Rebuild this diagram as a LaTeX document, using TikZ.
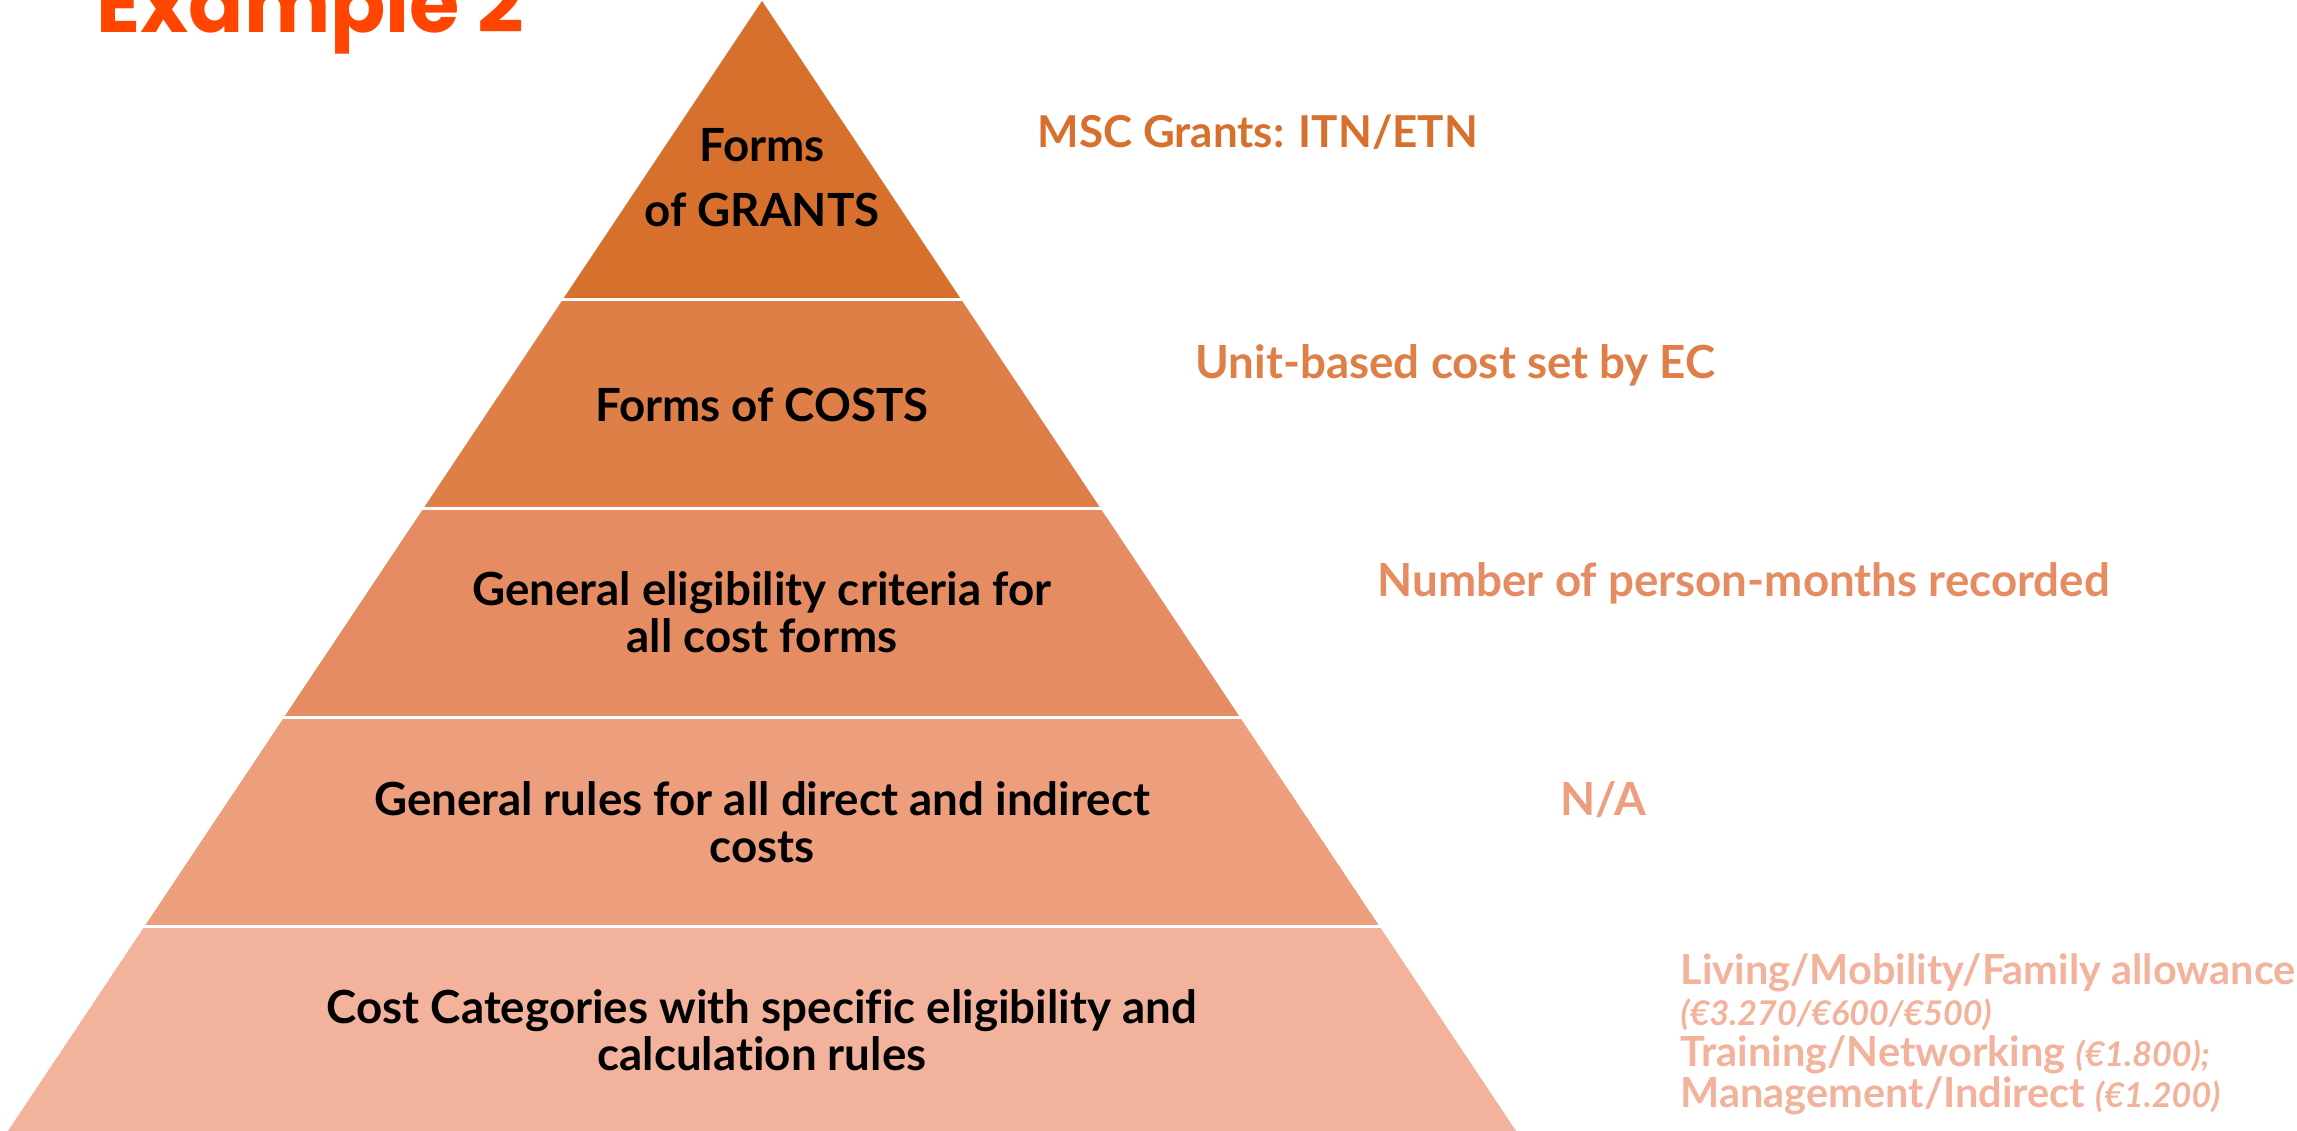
\documentclass[tikz,border=0pt]{standalone}
\usepackage{fontspec}
\setmainfont{Lato}[Ligatures=NoCommon]
\newfontfamily\titlefont{Poppins}
\usetikzlibrary{positioning}
\definecolor{titlered}{HTML}{FF4500}
\definecolor{layerA}{HTML}{D7702D}
\definecolor{layerB}{HTML}{DF7F48}
\definecolor{layerC}{HTML}{E58C62}
\definecolor{layerD}{HTML}{EC9E7D}
\definecolor{layerE}{HTML}{F2B29B}

\begin{document}
\begin{tikzpicture}[x=0.1mm,y=-0.1mm,
	title/.style={font=\titlefont\fontsize{23.2}{27}\selectfont\bfseries, text=titlered, inner sep=0pt},
	lbl/.style={font=\fontsize{13}{13.3}\selectfont\bfseries, align=center, text=black, inner sep=0pt},
	side/.style={font=\fontsize{13}{15}\selectfont\bfseries, anchor=west, inner sep=0pt}]
		\useasboundingbox (0,0) rectangle (2297,1131);

		% pyramid layers
		\foreach \ya/\yb/\col in {1/300/layerA, 300/509/layerB, 509/718/layerC, 718/927/layerD, 927/1131/layerE}
			\fill[\col] ({762-0.6673*(\ya-1)},\ya) -- ({762+0.6673*(\ya-1)},\ya) -- ({762+0.6673*(\yb-1)},\yb) -- ({762-0.6673*(\yb-1)},\yb) -- cycle;
		\foreach \y in {300,509,718,927}
			\draw[white, line width=0.3mm] (0,\y) -- (1600,\y);

		\node[title, anchor=base west] (title) at (96,33) {Example 2};

		% labels in the pyramid
		\node[lbl, font=\fontsize{13}{18.4}\selectfont\bfseries] (grants) at (762,178) {Forms\\of GRANTS};
		\node[lbl] (costs) at (762,405) {Forms of COSTS};
		\node[lbl] (criteria) at (762,612) {General eligibility criteria for\\all cost forms};
		\node[lbl] (rules) at (762,822) {General rules for all direct and indirect\\costs};
		\node[lbl] (categories) at (762,1030) {Cost Categories with specific eligibility and\\calculation rules};

		% notes on the right
		\node[side, text=layerA, font=\fontsize{12.5}{15}\selectfont\bfseries] (grantsnote) at (1037,132) {MSC Grants: ITN/ETN};
		\node[side, text=layerB] (costsnote) at (1195,365) {Unit-based cost set by EC};
		\node[side, text=layerC] (criterianote) at (1377,583) {Number of person-months recorded};
		\node[side, text=layerD] (rulesnote) at (1560,800) {N/A};
		\node[side, text=layerE, align=left, anchor=base west, font=\fontsize{11.8}{11.7}\selectfont\bfseries] (categoriesnote) at (1680,1108) {Living/Mobility/Family allowance\\{\itshape\fontsize{9.7}{11.7}\selectfont (€3.270/€600/€500)}\\Training/Networking {\itshape\fontsize{9.7}{11.7}\selectfont (€1.800);}\\Management/Indirect {\itshape\fontsize{9.7}{11.7}\selectfont (€1.200)}};
\end{tikzpicture}
\end{document}
